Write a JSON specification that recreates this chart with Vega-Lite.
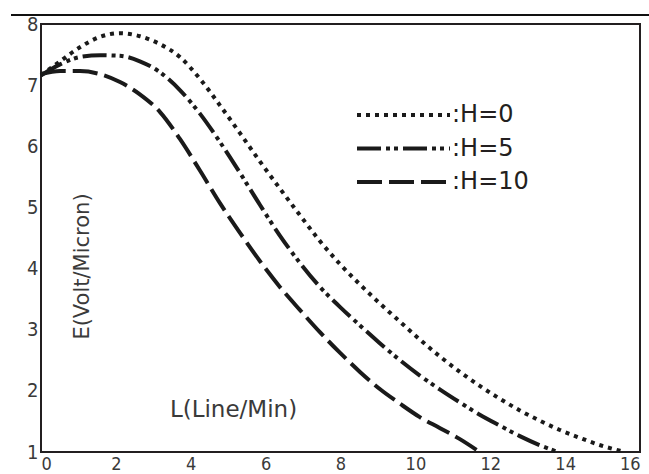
{
  "$schema": "https://vega.github.io/schema/vega-lite/v6.json",
  "usermeta": {"embedOptions": {"actions": false}},
  "autosize": {"type": "none"},
  "padding": {"left": 41, "top": 24, "right": 9, "bottom": 22},
  "width": 599,
  "height": 428,
  "background": "white",
  "config": {
    "view": {"stroke": "#231f20", "strokeWidth": 2},
    "axis": {"grid": false, "ticks": false, "domain": false, "labelFont": "Liberation Sans Narrow, DejaVu Sans Condensed, sans-serif", "labelFontSize": 20, "labelColor": "#3a3a3a", "titleFont": "DejaVu Sans", "titleColor": "#3a3a3a", "titleFontWeight": "normal"}
  },
  "data": {
    "values": [
      {"H": "0", "L": 0, "E": 7.16}, {"H": "0", "L": 0.51, "E": 7.39}, {"H": "0", "L": 1.04, "E": 7.62}, {"H": "0", "L": 1.58, "E": 7.79}, {"H": "0", "L": 2.11, "E": 7.85}, {"H": "0", "L": 2.64, "E": 7.80}, {"H": "0", "L": 3.18, "E": 7.67}, {"H": "0", "L": 3.71, "E": 7.46}, {"H": "0", "L": 4.25, "E": 7.10}, {"H": "0", "L": 4.78, "E": 6.67}, {"H": "0", "L": 5.32, "E": 6.21}, {"H": "0", "L": 5.85, "E": 5.75}, {"H": "0", "L": 6.38, "E": 5.31}, {"H": "0", "L": 6.92, "E": 4.87}, {"H": "0", "L": 7.45, "E": 4.45}, {"H": "0", "L": 7.99, "E": 4.07}, {"H": "0", "L": 8.52, "E": 3.74}, {"H": "0", "L": 9.05, "E": 3.43}, {"H": "0", "L": 9.59, "E": 3.13}, {"H": "0", "L": 10.12, "E": 2.84}, {"H": "0", "L": 10.66, "E": 2.56}, {"H": "0", "L": 11.19, "E": 2.31}, {"H": "0", "L": 11.72, "E": 2.08}, {"H": "0", "L": 12.26, "E": 1.87}, {"H": "0", "L": 12.79, "E": 1.68}, {"H": "0", "L": 13.33, "E": 1.51}, {"H": "0", "L": 13.86, "E": 1.36}, {"H": "0", "L": 14.40, "E": 1.23}, {"H": "0", "L": 14.94, "E": 1.11}, {"H": "0", "L": 15.47, "E": 1.02}, {"H": "0", "L": 15.6, "E": 1.0},
      {"H": "5", "L": 0, "E": 7.16}, {"H": "5", "L": 0.51, "E": 7.34}, {"H": "5", "L": 1.04, "E": 7.46}, {"H": "5", "L": 1.58, "E": 7.49}, {"H": "5", "L": 2.11, "E": 7.48}, {"H": "5", "L": 2.64, "E": 7.39}, {"H": "5", "L": 3.18, "E": 7.21}, {"H": "5", "L": 3.71, "E": 6.92}, {"H": "5", "L": 4.25, "E": 6.53}, {"H": "5", "L": 4.78, "E": 6.07}, {"H": "5", "L": 5.32, "E": 5.56}, {"H": "5", "L": 5.85, "E": 5.04}, {"H": "5", "L": 6.38, "E": 4.54}, {"H": "5", "L": 6.92, "E": 4.09}, {"H": "5", "L": 7.45, "E": 3.70}, {"H": "5", "L": 7.99, "E": 3.37}, {"H": "5", "L": 8.52, "E": 3.07}, {"H": "5", "L": 9.05, "E": 2.78}, {"H": "5", "L": 9.59, "E": 2.50}, {"H": "5", "L": 10.12, "E": 2.25}, {"H": "5", "L": 10.66, "E": 2.02}, {"H": "5", "L": 11.19, "E": 1.81}, {"H": "5", "L": 11.72, "E": 1.61}, {"H": "5", "L": 12.26, "E": 1.43}, {"H": "5", "L": 12.79, "E": 1.26}, {"H": "5", "L": 13.33, "E": 1.11}, {"H": "5", "L": 13.81, "E": 1.0},
      {"H": "10", "L": 0, "E": 7.18}, {"H": "10", "L": 0.51, "E": 7.23}, {"H": "10", "L": 1.04, "E": 7.23}, {"H": "10", "L": 1.58, "E": 7.18}, {"H": "10", "L": 2.11, "E": 7.05}, {"H": "10", "L": 2.64, "E": 6.85}, {"H": "10", "L": 3.18, "E": 6.56}, {"H": "10", "L": 3.71, "E": 6.12}, {"H": "10", "L": 4.25, "E": 5.60}, {"H": "10", "L": 4.78, "E": 5.07}, {"H": "10", "L": 5.32, "E": 4.58}, {"H": "10", "L": 5.85, "E": 4.12}, {"H": "10", "L": 6.38, "E": 3.70}, {"H": "10", "L": 6.92, "E": 3.32}, {"H": "10", "L": 7.45, "E": 2.96}, {"H": "10", "L": 7.99, "E": 2.62}, {"H": "10", "L": 8.52, "E": 2.31}, {"H": "10", "L": 9.05, "E": 2.03}, {"H": "10", "L": 9.59, "E": 1.79}, {"H": "10", "L": 10.12, "E": 1.57}, {"H": "10", "L": 10.66, "E": 1.39}, {"H": "10", "L": 11.19, "E": 1.21}, {"H": "10", "L": 11.67, "E": 1.02}
    ]
  },
  "layer": [
    {
      "mark": {"type": "line", "interpolate": "monotone", "strokeWidth": 4, "color": "#1a1a1a", "strokeCap": "butt"},
      "encoding": {
        "x": {"field": "L", "type": "quantitative", "scale": {"domain": [0, 16], "nice": false, "zero": false},
          "axis": {"values": [0, 2, 4, 6, 8, 10, 12, 14, 16], "format": "d", "labelFontSize": 18, "labelPadding": 3, "title": "L(Line/Min)", "titleFontSize": 23, "titleX": 192, "titleY": -43, "titleAlign": "center", "titleBaseline": "middle"}},
        "y": {"field": "E", "type": "quantitative", "scale": {"domain": [1, 8], "nice": false, "zero": false},
          "axis": {"values": [1, 2, 3, 4, 5, 6, 7, 8], "format": "d", "labelPadding": 3, "title": "E(Volt/Micron)", "titleFontSize": 21, "titleX": 41, "titleY": 242, "titleAngle": 270, "titleAlign": "center", "titleBaseline": "middle"}},
        "strokeDash": {"field": "H", "type": "nominal",
          "scale": {"domain": ["0", "5", "10"], "range": [[4, 5], [24, 5, 4, 4, 4, 5], [25, 7]]},
          "legend": {"orient": "none", "legendX": 314, "legendY": 74.5, "title": null, "padding": 0, "symbolType": "stroke", "symbolSize": 8649, "symbolStrokeWidth": 4, "symbolStrokeColor": "#1a1a1a", "clipHeight": 33, "rowPadding": 0.5, "labelOffset": 0, "labelFont": "DejaVu Sans", "labelFontSize": 24, "labelColor": "#231f20", "labelLimit": 0, "labelExpr": "':H=' + datum.label"}}
      }
    },
    {
      "mark": {"type": "rule", "color": "#111111", "strokeWidth": 1.5},
      "encoding": {
        "x": {"datum": -0.8, "type": "quantitative"},
        "x2": {"datum": 16.5},
        "y": {"datum": 8.15, "type": "quantitative"}
      }
    }
  ]
}
